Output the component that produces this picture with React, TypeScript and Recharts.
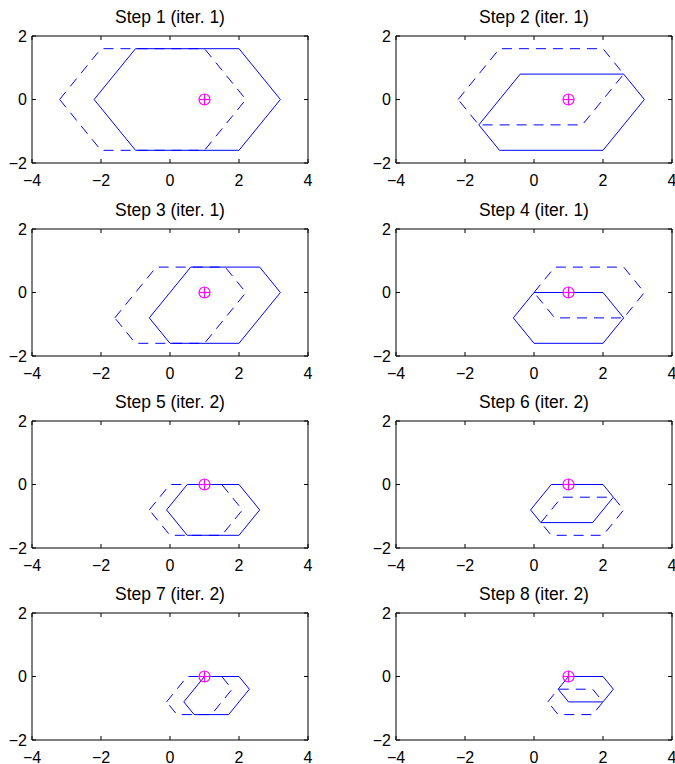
import { ScatterChart, Scatter, XAxis, YAxis, ReferenceArea } from 'recharts';

type P = [number, number];

const titles = [
  'Step 1 (iter. 1)', 'Step 2 (iter. 1)', 'Step 3 (iter. 1)', 'Step 4 (iter. 1)',
  'Step 5 (iter. 2)', 'Step 6 (iter. 2)', 'Step 7 (iter. 2)', 'Step 8 (iter. 2)',
];
const xTicks = [-4, -2, 0, 2, 4];
const yTicks = [-2, 0, 2];
const centre = [{ x: 1, y: 0 }];

// solid = current polygon, dashed = previous/candidate polygon
const step1Solid: P[] = [[-2.2, 0], [-1, 1.6], [2, 1.6], [3.2, 0], [2, -1.6], [-1, -1.6]];
const step1Dashed: P[] = [[-3.2, 0], [-2, 1.6], [1, 1.6], [2.2, 0], [1, -1.6], [-2, -1.6]];
const step2Solid: P[] = [[-1.6, -0.8], [-0.4, 0.8], [2.6, 0.8], [3.2, 0], [2, -1.6], [-1, -1.6]];
const step2Dashed: P[] = [[-2.2, 0], [-1, 1.6], [2, 1.6], [2.6, 0.8], [1.4, -0.8], [-1.6, -0.8]];
const step3Solid: P[] = [[-0.6, -0.8], [0.6, 0.8], [2.6, 0.8], [3.2, 0], [2, -1.6], [0, -1.6]];
const step3Dashed: P[] = [[-1.6, -0.8], [-0.4, 0.8], [1.6, 0.8], [2.2, 0], [1, -1.6], [-1, -1.6]];
const step4Solid: P[] = [[-0.6, -0.8], [0, 0], [2, 0], [2.6, -0.8], [2, -1.6], [0, -1.6]];
const step4Dashed: P[] = [[0, 0], [0.6, 0.8], [2.6, 0.8], [3.2, 0], [2.6, -0.8], [0.6, -0.8]];
const step5Solid: P[] = [[-0.1, -0.8], [0.5, 0], [2, 0], [2.6, -0.8], [2, -1.6], [0.5, -1.6]];
const step5Dashed: P[] = [[-0.6, -0.8], [0, 0], [1.5, 0], [2.1, -0.8], [1.5, -1.6], [0, -1.6]];
const step6Solid: P[] = [[-0.1, -0.8], [0.5, 0], [2, 0], [2.3, -0.4], [1.7, -1.2], [0.2, -1.2]];
const step6Dashed: P[] = [[0.2, -1.2], [0.8, -0.4], [2.3, -0.4], [2.6, -0.8], [2, -1.6], [0.5, -1.6]];
const step7Solid: P[] = [[0.4, -0.8], [1, 0], [2, 0], [2.3, -0.4], [1.7, -1.2], [0.7, -1.2]];
const step7Dashed: P[] = [[-0.1, -0.8], [0.5, 0], [1.5, 0], [1.8, -0.4], [1.2, -1.2], [0.2, -1.2]];
const step8Solid: P[] = [[0.7, -0.4], [1, 0], [2, 0], [2.3, -0.4], [2, -0.8], [1, -0.8]];
const step8Dashed: P[] = [[0.4, -0.8], [0.7, -0.4], [1.7, -0.4], [2, -0.8], [1.7, -1.2], [0.7, -1.2]];

const solids = [step1Solid, step2Solid, step3Solid, step4Solid, step5Solid, step6Solid, step7Solid, step8Solid];
const dashes = [step1Dashed, step2Dashed, step3Dashed, step4Dashed, step5Dashed, step6Dashed, step7Dashed, step8Dashed];

const PLOT_W = 276;
const PLOT_H = 127;
const MT = 36;
const CH = 193;
const rowTops = [0, 193, 385, 577];
const cols = [
  { left: 0, width: 320, yw: 32 },
  { left: 340, width: 335, yw: 56 },
];
const FONT = '"Liberation Sans", Arial, sans-serif';

const closed = (a: P[]) => [...a, a[0]].map(([x, y]) => ({ x, y }));
const fmt = (v: number) => (v < 0 ? '\u2212' + Math.abs(v) : String(v));

function XTick({ x, y, payload }: any) {
  return (
    <g>
      <line x1={x} y1={y} x2={x} y2={y - 4} stroke="#000" />
      <line x1={x} y1={y - PLOT_H} x2={x} y2={y - PLOT_H + 4} stroke="#000" />
      <text x={x} y={y + 23} textAnchor="middle" fontSize={16} fontFamily={FONT} fill="#000">
        {fmt(payload.value)}
      </text>
    </g>
  );
}

function YTick({ x, y, payload }: any) {
  return (
    <g>
      <line x1={x} y1={y} x2={x + 4} y2={y} stroke="#000" />
      <line x1={x + PLOT_W} y1={y} x2={x + PLOT_W - 4} y2={y} stroke="#000" />
      <text x={x - 5} y={y} dy="0.36em" textAnchor="end" fontSize={16} fontFamily={FONT} fill="#000">
        {fmt(payload.value)}
      </text>
    </g>
  );
}

function Centre({ cx, cy }: any) {
  return (
    <g stroke="#ff00ff" strokeWidth={1.2} fill="none">
      <circle cx={cx} cy={cy} r={5.5} />
      <line x1={cx - 5.5} y1={cy} x2={cx + 5.5} y2={cy} />
      <line x1={cx} y1={cy - 5.5} x2={cx} y2={cy + 5.5} />
    </g>
  );
}

const NoDot = () => <g />;

function Panel({ i }: { i: number }) {
  const col = cols[i % 2];
  const top = rowTops[Math.floor(i / 2)];
  return (
    <div style={{ position: 'absolute', left: col.left, top }}>
      <ScatterChart
        width={col.width}
        height={CH}
        margin={{ top: MT, right: col.width - col.yw - PLOT_W, bottom: 0, left: 0 }}
      >
        <XAxis
          type="number"
          dataKey="x"
          domain={[-4, 4]}
          ticks={xTicks}
          interval={0}
          allowDataOverflow
          axisLine={false}
          tickLine={false}
          tickSize={0}
          tickMargin={0}
          height={CH - MT - PLOT_H}
          tick={<XTick />}
        />
        <YAxis
          type="number"
          dataKey="y"
          domain={[-2, 2]}
          ticks={yTicks}
          interval={0}
          allowDataOverflow
          axisLine={false}
          tickLine={false}
          tickSize={0}
          tickMargin={0}
          width={col.yw}
          tick={<YTick />}
        />
        <ReferenceArea x1={-4} x2={4} y1={-2} y2={2} fill="none" stroke="#000" strokeWidth={1} fillOpacity={0} strokeOpacity={1} />
        <Scatter
          data={closed(dashes[i])}
          line={{ stroke: '#0000ff', strokeWidth: 1, strokeDasharray: '10 7' }}
          lineType="joint"
          shape={<NoDot />}
          isAnimationActive={false}
        />
        <Scatter
          data={closed(solids[i])}
          line={{ stroke: '#0000ff', strokeWidth: 1 }}
          lineType="joint"
          shape={<NoDot />}
          isAnimationActive={false}
        />
        <Scatter data={centre} shape={<Centre />} isAnimationActive={false} />
      </ScatterChart>
    </div>
  );
}

export default function App() {
  return (
    <div style={{ position: 'absolute', left: 0, top: 0, width: 675, height: 764, overflow: 'hidden', background: '#fff' }}>
      {titles.map((_, i) => (
        <Panel key={i} i={i} />
      ))}
      <svg width={675} height={764} style={{ position: 'absolute', left: 0, top: 0, pointerEvents: 'none' }}>
        {titles.map((t, i) => {
          const col = cols[i % 2];
          const cx = col.left + col.yw + PLOT_W / 2;
          const by = rowTops[Math.floor(i / 2)] + MT - 13;
          return (
            <text key={t} x={cx} y={by} textAnchor="middle" fontSize={17.5} fontFamily={FONT} fill="#000">
              {t}
            </text>
          );
        })}
      </svg>
    </div>
  );
}
